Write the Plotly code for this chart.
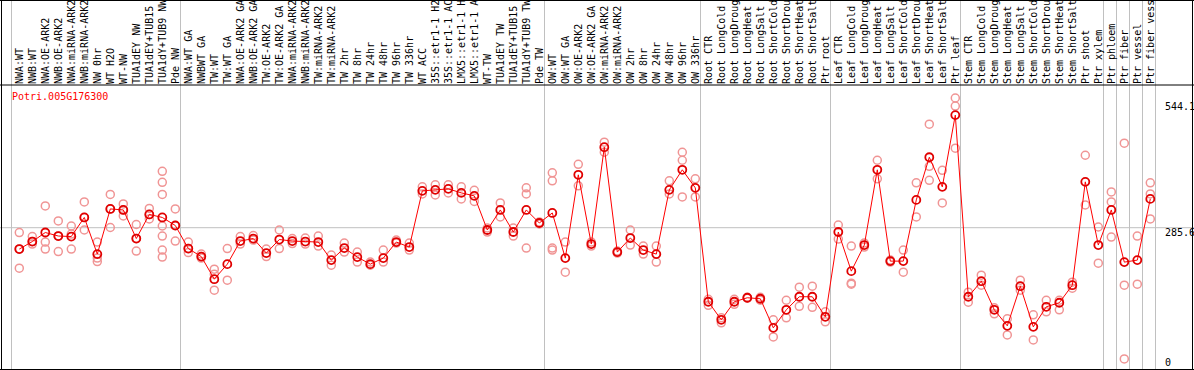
import plotly.graph_objects as go

gene = "Potri.005G176300"

labels = [
    "NWA:WT", "NWB:WT", "NWA:OE-ARK2", "NWB:OE-ARK2", "NWA:miRNA-ARK2", "NWB:miRNA-ARK2",
    "NW 0hr", "WT H2O", "WT-NW", "TUA1dEY NW", "TUA1dEY+TUB15 NW", "TUA1dY+TUB9 NW", "Pde NW",
    "NWA:WT GA", "NWBWT GA", "TW:WT", "TW:WT GA", "NWA:OE-ARK2 GA", "NWB:OE-ARK2 GA",
    "TW:OE-ARK2", "TW:OE-ARK2 GA", "NWA:miRNA-ARK2 GA", "NWB:miRNA-ARK2 GA", "TW:miRNA-ARK2",
    "TW:miRNA-ARK2 GA", "TW 2hr", "TW 8hr", "TW 24hr", "TW 48hr", "TW 96hr", "TW 336hr", "WT ACC",
    "35S::etr1-1 H2O", "35S::etr1-1 ACC", "LMX5::etr1-1 H2O", "LMX5::etr1-1 ACC", "WT-TW",
    "TUA1dEY TW", "TUA1dEY+TUB15 TW", "TUA1dY+TUB9 TW", "Pde TW",
    "OW:WT", "OW:WT GA", "OW:OE-ARK2", "OW:OE-ARK2 GA", "OW:miRNA-ARK2", "OW:miRNA-ARK2 GA",
    "OW 2hr", "OW 8hr", "OW 24hr", "OW 48hr", "OW 96hr", "OW 336hr",
    "Root CTR", "Root LongCold", "Root LongDrought", "Root LongHeat", "Root LongSalt",
    "Root ShortCold", "Root ShortDrought", "Root ShortHeat", "Root ShortSalt", "Ptr root",
    "Leaf CTR", "Leaf LongCold", "Leaf LongDrought", "Leaf LongHeat", "Leaf LongSalt",
    "Leaf ShortCold", "Leaf ShortDrought", "Leaf ShortHeat", "Leaf ShortSalt", "Ptr leaf",
    "Stem CTR", "Stem LongCold", "Stem LongDrought", "Stem LongHeat", "Stem LongSalt",
    "Stem ShortCold", "Stem ShortDrought", "Stem ShortHeat", "Stem ShortSalt", "Ptr shoot",
    "Ptr xylem", "Ptr phloem", "Ptr fiber", "Ptr vessel", "Ptr fiber vessel",
]

means = [
    243, 258, 276, 269, 268, 306, 233, 323, 321, 264, 312, 306, 290,
    244, 228, 183, 213, 259, 264, 235, 262, 259, 258, 257, 221, 245, 227, 213, 225, 257, 247,
    359, 361, 363, 355, 349, 281, 321, 277, 321, 295,
    315, 225, 391, 253, 446, 237, 265, 241, 233, 361, 401, 365,
    138, 102, 138, 146, 144, 86, 122, 148, 148, 108,
    277, 199, 251, 401, 219, 219, 341, 426, 367, 510,
    148, 179, 122, 90, 169, 88, 128, 136, 171, 377, 251,
    321, 217, 221, 343,
]

replicates = [
    [276, 243, 205], [268, 253, 258], [329, 257, 243], [299, 238, 269], [289, 273, 243],
    [337, 306, 281], [257, 225, 218], [352, 323, 286], [333, 321, 309], [292, 264, 239],
    [324, 312, 303], [398, 376, 352, 289, 269, 241, 227], [323, 290, 259],
    [257, 244, 236], [233, 228, 225], [203, 193, 161], [244, 181], [268, 253], [270, 261],
    [243, 228], [281, 244], [264, 254], [265, 253], [269, 249], [231, 211], [255, 237],
    [237, 217], [217, 211], [241, 217], [261, 255], [255, 241], [367, 353], [371, 351],
    [371, 355], [367, 343], [360, 338], [277, 285], [335, 307], [285, 269], [365, 353, 245],
    [293, 297],
    [395, 379, 245, 241], [257, 197], [412, 369], [257, 249], [456, 436], [239, 235],
    [281, 251], [249, 233], [249, 217], [379, 353], [436, 420, 347], [383, 347],
    [143, 131], [106, 96], [143, 133], [145, 147], [147, 141], [102, 68], [141, 106],
    [167, 129], [169, 127], [118, 98],
    [291, 263], [249, 175, 173], [255, 247], [420, 383], [221, 217], [241, 197], [375, 307],
    [492, 408, 380], [400, 335], [544.1, 528, 444],
    [157, 137], [191, 171], [126, 114], [104, 72], [181, 161], [112, 62], [141, 118],
    [141, 122], [165, 177], [430, 331], [287, 215],
    [357, 337, 267], [454, 171, 24], [269, 173], [375, 353, 303],
]

# index of the first column of each group (group separators)
group_starts = [0, 13, 41, 53, 63, 73, 84, 85, 86, 87, 88]

ref_value = 285.6
top_value = 544.1

W, H = 1194, 370
MONO = "DejaVu Sans Mono"
n = len(labels)
xs = list(range(n))

rep_x, rep_y = [], []
for i, reps in enumerate(replicates):
    for v in reps:
        rep_x.append(i)
        rep_y.append(v)

fig = go.Figure()
fig.add_trace(go.Scatter(
    x=rep_x, y=rep_y, mode="markers",
    marker=dict(symbol="circle-open", size=8, color="#f09595", line=dict(width=1.5, color="#f09595")),
    hoverinfo="skip", showlegend=False,
))
fig.add_trace(go.Scatter(
    x=xs, y=means, mode="lines+markers",
    line=dict(color="#ff0000", width=1),
    marker=dict(symbol="circle-open", size=8, color="#e00000", line=dict(width=1.8, color="#e00000")),
    hoverinfo="skip", showlegend=False,
))

label_px = 85  # separator between label strip and plot
ydom_top = 1 - label_px / H

shapes = []
for b in group_starts:
    shapes.append(dict(type="line", xref="x", yref="paper", x0=b - 0.6, x1=b - 0.6, y0=0, y1=1,
                       line=dict(color="#c0c0c0", width=1), layer="below"))
shapes.append(dict(type="line", xref="paper", yref="y", x0=0, x1=1, y0=ref_value, y1=ref_value,
                   line=dict(color="#c0c0c0", width=1), layer="below"))
# frame
for (x0, y0, x1, y1) in [
    (1.5 / W, 0, 1.5 / W, 1),
    (1192.5 / W, 0, 1192.5 / W, 1),
    (0, 1 - 0.5 / H, 1, 1 - 0.5 / H),
    (0, 0.5 / H, 1, 0.5 / H),
    (0, ydom_top, 1, ydom_top),
]:
    shapes.append(dict(type="line", xref="paper", yref="paper", x0=x0, x1=x1, y0=y0, y1=y1,
                       line=dict(color="black", width=1)))

annotations = [
    dict(text=gene, xref="paper", yref="paper", x=10 / W, y=1 - 96.7 / H, xanchor="left",
         yanchor="middle", showarrow=False, font=dict(family=MONO, size=10, color="#ff0000")),
    dict(text=f"{top_value}", xref="paper", yref="paper", x=1163 / W, y=1 - 106.7 / H,
         xanchor="left", yanchor="middle", showarrow=False, font=dict(family=MONO, size=10, color="black")),
    dict(text=f"{ref_value}", xref="paper", yref="paper", x=1163 / W, y=1 - 232.7 / H,
         xanchor="left", yanchor="middle", showarrow=False, font=dict(family=MONO, size=10, color="black")),
    dict(text="0", xref="paper", yref="paper", x=1163 / W, y=1 - 362 / H,
         xanchor="left", yanchor="middle", showarrow=False, font=dict(family=MONO, size=10, color="black")),
]

fig.update_layout(
    width=W, height=H, margin=dict(l=0, r=0, t=0, b=0),
    paper_bgcolor="white", plot_bgcolor="white",
    template="none", showlegend=False,
    shapes=shapes, annotations=annotations,
    xaxis=dict(
        range=[-19.3 / 13, -19.3 / 13 + W / 13], domain=[0, 1], side="top", anchor="y",
        tickmode="array", tickvals=xs, ticktext=[t[:14] for t in labels], tickangle=-90,
        tickfont=dict(family=MONO, size=10, color="black"), ticks="", showgrid=False,
        zeroline=False, showline=False, automargin=False, fixedrange=True,
    ),
    yaxis=dict(
        range=[2.0, 570.0], domain=[0, ydom_top], showticklabels=False, showgrid=False,
        zeroline=False, showline=False, automargin=False, fixedrange=True,
    ),
)

fig.write_html(
    "out.html",
    config={"displayModeBar": False, "staticPlot": True},
    post_script="document.body.style.margin='0';document.body.style.overflow='hidden';",
)
